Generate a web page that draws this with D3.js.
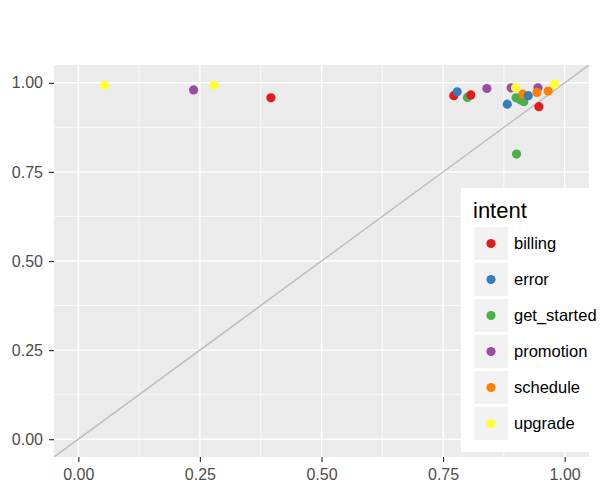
<!DOCTYPE html>
<html><head><meta charset="utf-8">
<script src="https://cdn.jsdelivr.net/npm/d3@7"></script>
<style>body{margin:0;background:#fff}svg{display:block}text{font-family:"Liberation Sans",Arial,sans-serif}</style>
</head><body><svg id="c" width="600" height="492"></svg>
<script>
const intents = ["billing","error","get_started","promotion","schedule","upgrade"];
const colors = ["#E41A1C","#377EB8","#4DAF4A","#984EA3","#FF7F00","#FFFF33"];
const ticks = [0,0.25,0.5,0.75,1];
const tickLabels = ["0.00","0.25","0.50","0.75","1.00"];
const pointIntent = ["upgrade","promotion","upgrade","billing","billing","error","get_started","billing","promotion","error","promotion","upgrade","get_started","get_started","get_started"];
const pointX = [0.054,0.237,0.279,0.396,0.772,0.779,0.800,0.807,0.840,0.882,0.890,0.899,0.900,0.910,0.916];
const pointY = [0.993,0.980,0.993,0.958,0.964,0.975,0.959,0.966,0.984,0.940,0.986,0.986,0.958,0.952,0.947];
const point2Intent = ["schedule","error","promotion","schedule","billing","schedule","upgrade","get_started"];
const point2X = [0.914,0.925,0.945,0.943,0.947,0.966,0.979,0.901];
const point2Y = [0.968,0.964,0.986,0.973,0.933,0.977,0.996,0.800];

const svg = d3.select("#c");
const L=54,R=589,T=65,B=457;
const x = d3.scaleLinear().domain([-0.05,1.05]).range([L,R]);
const y = d3.scaleLinear().domain([-0.05,1.05]).range([B,T]);
const col = d3.scaleOrdinal().domain(intents).range(colors);

svg.append("rect").attr("x",L).attr("y",T).attr("width",R-L).attr("height",B-T).attr("fill","#EBEBEB");
const minor=[0.125,0.375,0.625,0.875];
const g=svg.append("g");
minor.forEach(v=>{
  g.append("line").attr("x1",x(v)).attr("x2",x(v)).attr("y1",T).attr("y2",B).attr("stroke","#fff").attr("stroke-width",0.7);
  g.append("line").attr("y1",y(v)).attr("y2",y(v)).attr("x1",L).attr("x2",R).attr("stroke","#fff").attr("stroke-width",0.7);
});
ticks.forEach(v=>{
  g.append("line").attr("x1",x(v)).attr("x2",x(v)).attr("y1",T).attr("y2",B).attr("stroke","#fff").attr("stroke-width",1.4);
  g.append("line").attr("y1",y(v)).attr("y2",y(v)).attr("x1",L).attr("x2",R).attr("stroke","#fff").attr("stroke-width",1.4);
});
svg.append("clipPath").attr("id","cp").append("rect").attr("x",L).attr("y",T).attr("width",R-L).attr("height",B-T);
svg.append("line").attr("clip-path","url(#cp)")
  .attr("x1",x(-0.05)).attr("y1",y(-0.05)).attr("x2",x(1.05)).attr("y2",y(1.05))
  .attr("stroke","#BEBEBE").attr("stroke-width",1.5);

const pts = pointX.map((v,i)=>({x:v,y:pointY[i],k:pointIntent[i]}))
  .concat(point2X.map((v,i)=>({x:v,y:point2Y[i],k:point2Intent[i]})));
svg.append("g").selectAll("circle").data(pts).join("circle")
  .attr("cx",d=>x(d.x)).attr("cy",d=>y(d.y)).attr("r",4.6).attr("fill",d=>col(d.k));

// axes
const xa = svg.append("g").attr("transform",`translate(0,${B})`)
  .call(d3.axisBottom(x).tickValues(ticks).tickFormat((d,i)=>tickLabels[i]).tickSize(5).tickPadding(6.5));
const ya = svg.append("g").attr("transform",`translate(${L},0)`)
  .call(d3.axisLeft(y).tickValues(ticks).tickFormat((d,i)=>tickLabels[i]).tickSize(5).tickPadding(6));
[xa,ya].forEach(a=>{
  a.select(".domain").remove();
  a.selectAll(".tick line").attr("stroke","#333").attr("stroke-width",1.2);
  a.selectAll(".tick text").attr("fill","#4D4D4D").style("font-size","16px").style("font-family","'Liberation Sans',Arial,sans-serif");
});

// legend
const lg = svg.append("g");
lg.append("rect").attr("x",461).attr("y",188).attr("width",139).attr("height",264).attr("fill","#fff");
lg.append("text").attr("x",473).attr("y",218).text("intent").style("font-size","22px").attr("fill","#000");
intents.forEach((k,i)=>{
  const ky=227+i*36;
  lg.append("rect").attr("x",474).attr("y",ky).attr("width",34).attr("height",33).attr("fill","#F2F2F2");
  lg.append("circle").attr("cx",491).attr("cy",ky+16.5).attr("r",4.6).attr("fill",colors[i]);
  lg.append("text").attr("x",514).attr("y",ky+16.5).attr("dy","0.35em").text(k).style("font-size","16.5px").attr("fill","#000");
});
</script></body></html>
